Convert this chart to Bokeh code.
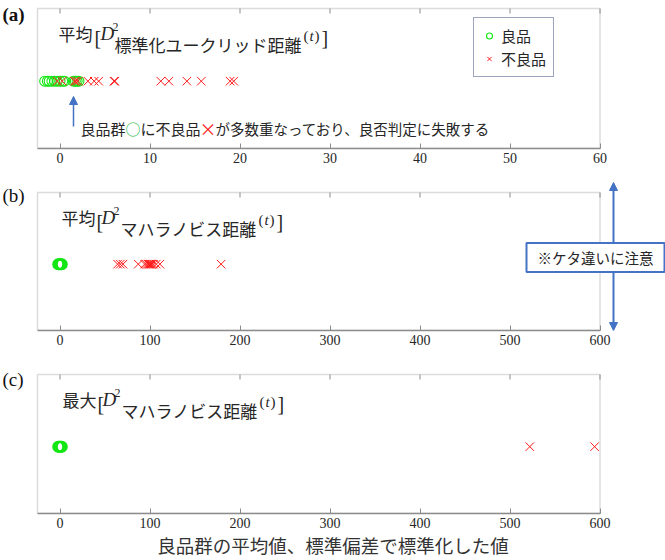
import numpy as np
from bokeh.plotting import figure
from bokeh.models import (Range1d, LinearAxis, FixedTicker, Label, Arrow, NormalHead,
                          Legend, LegendItem, BoxAnnotation)
from bokeh.layouts import column
from bokeh.embed import file_html
from bokeh.resources import INLINE

# ---------------- data ----------------
a_good = [-1.7, -1.4, -1.2, -0.9, -0.6, -0.3, 0.0, 0.3, 0.5, 1.5, 1.7, 1.9, 2.1]
a_bad = [-0.3, 0.25, 1.6, 1.75, 2.0, 3.1, 3.8, 4.3, 6.0, 6.1, 11.2, 12.1, 14.1, 15.7, 18.9, 19.3]
b_good = [-2.0, -1.0, 0.0, 1.0, 2.0]
b_bad = [64, 67, 70, 87, 94, 96, 98, 99, 100, 101, 102, 104, 107, 111, 179]
c_good = [-2.0, -1.0, 0.0, 1.0, 2.0]
c_bad = [522, 594]

a_ticks = [0, 10, 20, 30, 40, 50, 60]
bc_ticks = [0, 100, 200, 300, 400, 500, 600]
a_xlim = (-2.5, 60)
bc_xlim = (-25, 600)
y_lim = (-1, 1.08)

panel_tags = ["(a)", "(b)", "(c)"]
title_prefixes = ["平均", "平均", "最大"]
title_subs = ["標準化ユークリッド距離", "マハラノビス距離", "マハラノビス距離"]
legend_labels = ["良品", "不良品"]
note_parts = ["良品群", "○", "に不良品", "×", "が多数重なっており、良否判定に失敗する"]
warn_text = "※ケタ違いに注意"
x_label = "良品群の平均値、標準偏差で標準化した値"

GREEN = "#14e614"
RED = "#ff1a1a"
BLUE = "#4472c4"
GRAY = "#8c8c8c"
TXT = "#262626"
JP = "Noto Sans CJK JP"
SERIF = "Liberation Serif"

W = 665            # figure width (frame spans the whole width)
BOX_L, BOX_R = 37, 599.5   # pixel position of the axes box


def make_fig(xlim, ticks, frame_h, box_h, top, bottom):
    scale = (BOX_R - BOX_L) / (xlim[1] - xlim[0])
    x0 = xlim[0] - BOX_L / scale
    x1 = xlim[1] + (W - BOX_R) / scale
    yspan = y_lim[1] - y_lim[0]
    p = figure(width=W, frame_height=frame_h,
               min_border_left=0, min_border_right=0,
               min_border_top=top, min_border_bottom=bottom,
               x_range=Range1d(x0, x1),
               y_range=Range1d(y_lim[0], y_lim[0] + frame_h * yspan / box_h),
               x_axis_location=None, y_axis_location=None,
               toolbar_location=None, output_backend="svg")
    p.extra_y_ranges = {"px": Range1d(0, frame_h)}
    p.grid.visible = False
    p.outline_line_color = None
    p.background_fill_color = "white"
    p.border_fill_color = "white"
    ax = LinearAxis(ticker=FixedTicker(ticks=ticks), bounds=xlim,
                    major_tick_in=5, major_tick_out=0,
                    major_tick_line_color=GRAY, axis_line_color=GRAY,
                    axis_line_width=1.5,
                    minor_tick_line_color=None,
                    major_label_text_font=SERIF,
                    major_label_text_font_size="14px",
                    major_label_text_color=TXT,
                    major_label_standoff=4)
    p.add_layout(ax, "below")
    p.add_layout(BoxAnnotation(left=xlim[0], right=xlim[1], bottom=0, top=box_h,
                               y_range_name="px", fill_alpha=0,
                               line_color=GRAY, line_width=1.5))
    n = len(ticks)
    p.segment(x0=ticks, x1=ticks, y0=[box_h] * n, y1=[box_h - 5] * n,
              y_range_name="px", line_color=GRAY, line_width=1)
    return p, ax


def lab(p, text, x, y, size, font=JP, style="normal", color=TXT,
        align="left", baseline="middle", **kw):
    l = Label(x=x, y=y, x_units="screen", y_units="screen", text=text,
              text_font=font, text_font_size=f"{size}px",
              text_font_style=style, text_color=color,
              text_align=align, text_baseline=baseline, **kw)
    p.add_layout(l)
    return l


def add_title(p, box_h, prefix, sub, px, bx, dx, tx, sx):
    lab(p, prefix, px, box_h - 25, 17)
    lab(p, "[", bx, box_h - 29, 20, font=SERIF)
    lab(p, "D", dx, box_h - 25, 19, font=SERIF, style="italic")
    lab(p, "2", tx, box_h - 18, 12, font=SERIF)
    lab(p, sub, sx, box_h - 36, 17)
    end = sx + 17 * len(sub) + 2
    lab(p, "(", end, box_h - 27, 15, font=SERIF)
    lab(p, "t", end + 6, box_h - 27, 15, font=SERIF, style="italic")
    lab(p, ")", end + 11, box_h - 27, 15, font=SERIF)
    lab(p, "]", end + 18, box_h - 29, 20, font=SERIF)


def add_points(p, good, bad, lw=1.1):
    rg = p.scatter(x=good, y=np.zeros(len(good)), marker="circle", size=10,
                   fill_color=None, line_color=GREEN, line_width=lw)
    rb = p.scatter(x=bad, y=np.zeros(len(bad)), marker="x", size=12,
                   line_color=RED, line_width=1)
    return rg, rb


# ---------------- (a) ----------------
FA, BA = 148, 140
pa, _ = make_fig(a_xlim, a_ticks, FA, BA, 0, 30)
rg, rb = add_points(pa, a_good, a_bad)
lab(pa, panel_tags[0], 2, FA - 14, 19, font=SERIF, style="bold", color="#111111")
add_title(pa, BA, title_prefixes[0], title_subs[0], 58, 94, 100, 112, 114)

pa.add_layout(Arrow(end=NormalHead(size=8, fill_color=BLUE, line_color=BLUE),
                    x_start=73, y_start=22, x_end=73, y_end=52,
                    start_units="screen", end_units="screen",
                    line_color=BLUE, line_width=1.5))
fs = 15
nx, ny = 80, 20
lab(pa, note_parts[0], nx, ny, fs)
lab(pa, note_parts[1], nx + 3 * fs + fs / 2, ny, fs, color="#22bb44", align="center")
lab(pa, note_parts[2], nx + 4 * fs, ny, fs)
lab(pa, note_parts[3], nx + 8 * fs + fs / 2, ny, 17, color=RED, align="center")
lab(pa, note_parts[4], nx + 9 * fs, ny, 14.5)

leg = Legend(items=[LegendItem(label=legend_labels[0], renderers=[rg]),
                    LegendItem(label=legend_labels[1], renderers=[rb])],
             location=(473, 71),
             label_text_font=JP, label_text_font_size="15px",
             label_text_color=TXT,
             border_line_color="#3c4a78", border_line_width=1,
             padding=7, spacing=2, margin=0,
             glyph_width=16, glyph_height=15, label_height=15,
             label_standoff=4, background_fill_alpha=1)
pa.add_layout(leg)

# ---------------- (b) ----------------
FB, BB = 150, 138
pb, _ = make_fig(bc_xlim, bc_ticks, FB, BB, 2, 30)
add_points(pb, b_good, b_bad, lw=2)
lab(pb, panel_tags[1], 2, 135, 19, font=SERIF, color="#111111")
add_title(pb, BB, title_prefixes[1], title_subs[1], 61, 96, 101, 113, 120)

pb.add_layout(Arrow(start=NormalHead(size=8, fill_color=BLUE, line_color=BLUE),
                    end=NormalHead(size=8, fill_color=BLUE, line_color=BLUE),
                    x_start=613, y_start=0, x_end=613, y_end=148,
                    start_units="screen", end_units="screen",
                    line_color=BLUE, line_width=2))
lab(pb, warn_text, 526, 73, 14.5, color=TXT,
    background_fill_color="white", border_line_color=BLUE,
    border_line_width=2, padding=dict(left=11, right=11, top=4, bottom=4))

# ---------------- (c) ----------------
FC, BC = 151, 139
pc, axc = make_fig(bc_xlim, bc_ticks, FC, BC, 2, 45)
add_points(pc, c_good, c_bad, lw=2)
lab(pc, panel_tags[2], 2, 134, 19, font=SERIF, color="#111111")
add_title(pc, BC, title_prefixes[2], title_subs[2], 62, 97, 102, 114, 121)
axc.axis_label = x_label
axc.axis_label_text_font = JP
axc.axis_label_text_font_size = "18.5px"
axc.axis_label_text_font_style = "normal"
axc.axis_label_text_color = "#333333"
axc.axis_label_standoff = 1

layout = column(pa, pb, pc, spacing=0)
open("out.html", "w").write(file_html(layout, INLINE))
